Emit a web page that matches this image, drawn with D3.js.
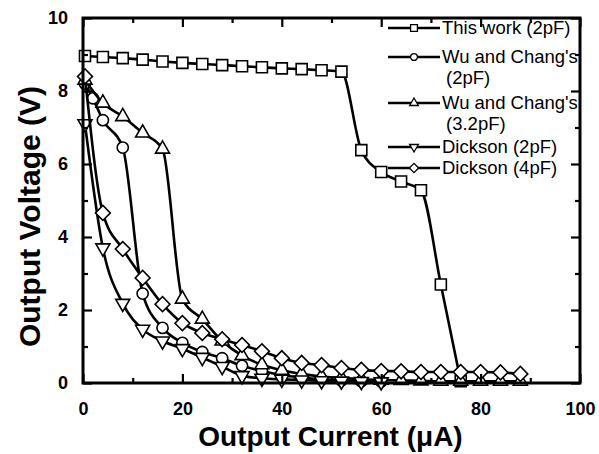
<!DOCTYPE html>
<html><head><meta charset="utf-8">
<script src="https://cdn.jsdelivr.net/npm/d3@7"></script>
<style>body{margin:0;background:#fff}svg{display:block}</style>
</head><body>
<script>
// ---- data ----
const thisWorkX = [0.4,4,8,12,16,20,24,28,32,36,40,44,48,52,56,60,64,68,72,76];
const thisWorkY = [8.96,8.93,8.9,8.86,8.81,8.77,8.74,8.71,8.68,8.65,8.62,8.6,8.57,8.53,6.38,5.78,5.52,5.28,2.7,0.05];

const wu2X = [0.4,2,4,8,12,16,20,24,28,32,36,40,44,48,52,56,60];
const wu2Y = [8.2,7.8,7.2,6.45,2.45,1.51,1.1,0.85,0.68,0.47,0.33,0.22,0.15,0.1,0.07,0.05,0.04];

const wu32X = [0.4,4,8,12,16,20,24,28,32,36,40,44,48,52,56,60,64,68,72,76,80,84,88];
const wu32Y = [8.3,7.67,7.3,6.85,6.41,2.3,1.75,1.15,0.75,0.5,0.35,0.25,0.18,0.14,0.1,0.08,0.07,0.06,0.05,0.05,0.05,0.05,0.05];

const dick2X = [0.4,4,8,12,16,20,24,28,32,36,40,44,48,52,56,60];
const dick2Y = [7.1,3.7,2.18,1.47,1.15,0.94,0.7,0.45,0.2,0.13,0.1,0.08,0.06,0.05,0.04,0.03];

const dick4X = [0.4,4,8,12,16,20,24,28,32,36,40,44,48,52,56,60,64,68,72,76,80,84,88];
const dick4Y = [8.4,4.66,3.67,2.88,2.16,1.64,1.37,1.2,1.04,0.87,0.68,0.55,0.49,0.41,0.36,0.33,0.32,0.3,0.3,0.3,0.3,0.29,0.25];

const seriesNames = [["This work (2pF)"],["Wu and Chang's","(2pF)"],["Wu and Chang's","(3.2pF)"],["Dickson (2pF)"],["Dickson (4pF)"]];
const seriesShapes = ["square","circle","triangleUp","triangleDown","diamond"];

const xMajorTicks = [0,20,40,60,80,100];
const xMinorTicks = [10,30,50,70,90];
const yMajorTicks = [0,2,4,6,8,10];
const yMinorTicks = [1,3,5,7,9];

const xTitle = "Output Current (\u03bcA)";
const yTitle = "Output Voltage (V)";

// ---- layout ----
const W = 599, H = 454;
const L = 83, R = 580, T = 18, B = 383;
const svg = d3.select("body").append("svg").attr("width", W).attr("height", H);

const x = d3.scaleLinear().domain([0,100]).range([L,R]);
const y = d3.scaleLinear().domain([0,10]).range([B,T]);

const series = [
  {xs: thisWorkX, ys: thisWorkY},
  {xs: wu2X, ys: wu2Y},
  {xs: wu32X, ys: wu32Y},
  {xs: dick2X, ys: dick2Y},
  {xs: dick4X, ys: dick4Y}
].map((s,i)=>({pts: s.xs.map((v,j)=>[v, s.ys[j]]), name: seriesNames[i], shape: seriesShapes[i]}));

function symbolPath(shape, big){
  const k = big ? 1 : 0.62;
  switch(shape){
    case "square": return {d: d3.symbol(d3.symbolSquare, Math.pow(11*k,2))(), rot: 0};
    case "circle": return {d: d3.symbol(d3.symbolCircle, Math.PI*Math.pow(5.6*k,2))(), rot: 0};
    case "triangleUp": return {d: d3.symbol(d3.symbolTriangle, Math.pow(14*k,2)*Math.sqrt(3)/4)(), rot: 0};
    case "triangleDown": return {d: d3.symbol(d3.symbolTriangle, Math.pow(14*k,2)*Math.sqrt(3)/4)(), rot: 180};
    case "diamond": return {d: d3.symbol(d3.symbolSquare, Math.pow(10.5*k,2))(), rot: 45};
  }
}

const line = d3.line().x(d=>x(d[0])).y(d=>y(d[1])).curve(d3.curveMonotoneX);

const plot = svg.append("g");
series.forEach(s=>{
  const g = plot.append("g");
  g.append("path").attr("d", line(s.pts)).attr("fill","none").attr("stroke","#000").attr("stroke-width",2.6);
  const sym = symbolPath(s.shape, true);
  g.selectAll("path.m").data(s.pts).enter().append("path").attr("class","m")
    .attr("d", sym.d)
    .attr("transform", d=>`translate(${x(d[0])},${y(d[1])}) rotate(${sym.rot})`)
    .attr("fill","#fff").attr("stroke","#000").attr("stroke-width",1.6);
});

// ---- axes ----
const font = "'Liberation Sans', Arial, sans-serif";
const gx = svg.append("g").attr("transform",`translate(0,${B})`)
  .call(d3.axisBottom(x).tickValues(xMajorTicks).tickSize(-9).tickPadding(19).tickFormat(d3.format("d")));
const gy = svg.append("g").attr("transform",`translate(${L},0)`)
  .call(d3.axisLeft(y).tickValues(yMajorTicks).tickSize(-9).tickPadding(15).tickFormat(d3.format("d")));
const gxm = svg.append("g").attr("transform",`translate(0,${B})`)
  .call(d3.axisBottom(x).tickValues(xMinorTicks).tickSize(-5).tickFormat(""));
const gym = svg.append("g").attr("transform",`translate(${L},0)`)
  .call(d3.axisLeft(y).tickValues(yMinorTicks).tickSize(-5).tickFormat(""));
const gxt = svg.append("g").attr("transform",`translate(0,${T})`)
  .call(d3.axisTop(x).tickValues(xMajorTicks).tickSize(-9).tickFormat(""));
const gxtm = svg.append("g").attr("transform",`translate(0,${T})`)
  .call(d3.axisTop(x).tickValues(xMinorTicks).tickSize(-5).tickFormat(""));
const gyr = svg.append("g").attr("transform",`translate(${R},0)`)
  .call(d3.axisRight(y).tickValues(yMajorTicks).tickSize(-9).tickFormat(""));
const gyrm = svg.append("g").attr("transform",`translate(${R},0)`)
  .call(d3.axisRight(y).tickValues(yMinorTicks).tickSize(-5).tickFormat(""));
[gx,gy,gxm,gym,gxt,gxtm,gyr,gyrm].forEach(g=>{
  g.select(".domain").remove();
  g.selectAll(".tick line").attr("stroke","#000").attr("stroke-width",2.2);
  g.selectAll(".tick text").attr("fill","#000").style("font-family",font).style("font-weight","bold").style("font-size","18px");
});
svg.append("rect").attr("x",L).attr("y",T).attr("width",R-L).attr("height",B-T)
  .attr("fill","none").attr("stroke","#000").attr("stroke-width",3);

svg.append("text").attr("x",(L+R)/2-1).attr("y",446).attr("text-anchor","middle")
  .style("font-family",font).style("font-weight","bold").style("font-size","28px").text(xTitle);
svg.append("text").attr("transform",`translate(40,${(T+B)/2+16}) rotate(-90)`).attr("text-anchor","middle")
  .style("font-family",font).style("font-weight","bold").style("font-size","30px").text(yTitle);

// ---- legend ----
const legRows = [28, 57, 103, 147, 168];
const leg = svg.append("g");
series.forEach((s,i)=>{
  const yy = legRows[i];
  leg.append("line").attr("x1",388).attr("x2",440).attr("y1",yy).attr("y2",yy).attr("stroke","#000").attr("stroke-width",2.4);
  const sym = symbolPath(s.shape, false);
  leg.append("path").attr("d",sym.d).attr("transform",`translate(414,${yy}) rotate(${sym.rot})`)
    .attr("fill","#fff").attr("stroke","#000").attr("stroke-width",1.3);
  s.name.forEach((t,k)=>{
    leg.append("text").attr("x", k===0 ? 442 : 446).attr("y", yy + 6 + k*21)
      .style("font-family",font).style("font-size","18.5px").attr("fill","#000").text(t);
  });
});
</script>
</body></html>
